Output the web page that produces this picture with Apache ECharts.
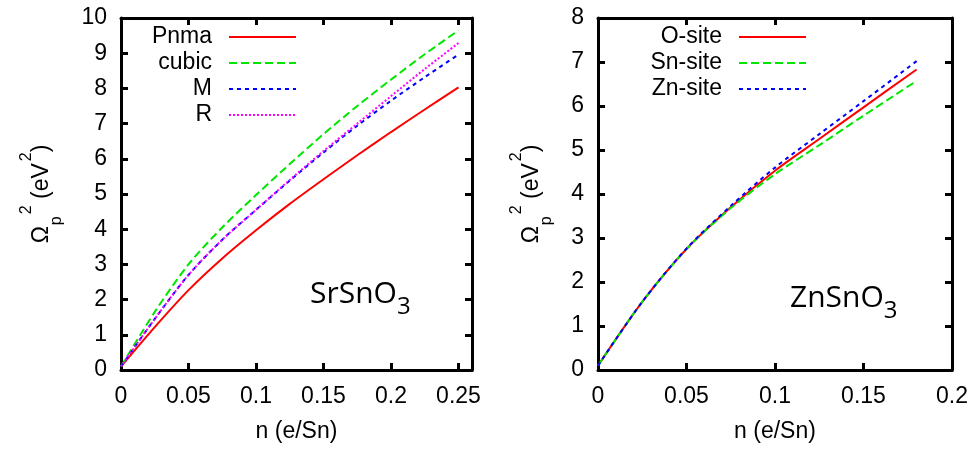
<!DOCTYPE html>
<html>
<head>
<meta charset="utf-8">
<script src="https://cdn.jsdelivr.net/npm/echarts@6/dist/echarts.min.js"></script>
<style>
  html, body { margin: 0; padding: 0; background: #fff; }
  #chart { width: 974px; height: 450px; }
</style>
</head>
<body>
<div id="chart"></div>
<script>
// SrSnO3 panel
const nSr = [0, 0.025, 0.05, 0.075, 0.1, 0.125, 0.15, 0.175, 0.2, 0.225, 0.25];
const pnma = [0.1, 1.22, 2.27, 3.17, 3.97, 4.72, 5.42, 6.1, 6.76, 7.4, 8.03];
const cubic = [0.1, 1.65, 3.0, 4.05, 4.97, 5.85, 6.7, 7.5, 8.25, 8.97, 9.65];
const phaseM = [0.1, 1.45, 2.7, 3.7, 4.55, 5.38, 6.18, 6.94, 7.65, 8.32, 8.96];
const phaseR = [0.1, 1.45, 2.7, 3.7, 4.55, 5.4, 6.22, 7.0, 7.78, 8.55, 9.29];

// ZnSnO3 panel
const nZn = [0, 0.025, 0.05, 0.075, 0.1, 0.125, 0.15, 0.18];
const oSite = [0.1, 1.55, 2.75, 3.7, 4.53, 5.25, 5.97, 6.83];
const snSite = [0.1, 1.55, 2.75, 3.68, 4.45, 5.11, 5.78, 6.57];
const znSite = [0.1, 1.55, 2.76, 3.73, 4.6, 5.36, 6.11, 7.02];

const srNames = ['Pnma', 'cubic', 'M', 'R'];
const znNames = ['O-site', 'Sn-site', 'Zn-site'];

const FONT = 'Liberation Sans';
const zip = (xs, ys) => xs.map((x, i) => [x, ys[i]]);

const frameLine = () => ({ show: true, onZero: false, lineStyle: { color: '#000', width: 3 } });
const tickIn = () => ({ show: true, inside: true, length: 7, lineStyle: { color: '#000', width: 3 } });
const tickLabel = margin => ({ color: '#000', fontFamily: FONT, fontSize: 23, margin: margin });

// Ω_p^2 (eV^2) with sub/superscripts
const yName = '{m|Ω}{sub|p}{sup|2}{m| (eV}{sup|2}{m|)}';
const yNameStyle = () => ({
  color: '#000',
  fontFamily: FONT,
  fontSize: 23,
  rich: {
    m: { fontFamily: FONT, fontSize: 23, lineHeight: 46, color: '#000' },
    sup: { fontFamily: FONT, fontSize: 16, lineHeight: 20, verticalAlign: 'top', padding: [0, 0, 0, 2], color: '#000' },
    sub: { fontFamily: FONT, fontSize: 16, lineHeight: 32, verticalAlign: 'bottom', padding: [0, 0, 0, 1], color: '#000' },
  },
});

function xAxes(grid, max) {
  return [
    {
      type: 'value', gridIndex: grid, position: 'bottom', min: 0, max: max, interval: 0.05,
      name: 'n (e/Sn)', nameLocation: 'middle', nameGap: 50,
      nameTextStyle: { color: '#000', fontFamily: FONT, fontSize: 23 },
      axisLine: frameLine(), axisTick: tickIn(),
      axisLabel: Object.assign({ showMaxLabel: max === 0.2 }, tickLabel(15)),
      splitLine: { show: false },
    },
    {
      type: 'value', gridIndex: grid, position: 'top', min: 0, max: max, interval: 0.05,
      axisLine: frameLine(), axisTick: tickIn(), axisLabel: { show: false }, splitLine: { show: false },
    },
  ];
}

function yAxes(grid, max, gap) {
  return [
    {
      type: 'value', gridIndex: grid, position: 'left', min: 0, max: max, interval: 1,
      name: yName, nameLocation: 'middle', nameGap: gap, nameRotate: 90,
      nameTextStyle: yNameStyle(),
      axisLine: frameLine(), axisTick: tickIn(),
      axisLabel: tickLabel(14),
      splitLine: { show: false },
    },
    {
      type: 'value', gridIndex: grid, position: 'right', min: 0, max: max, interval: 1,
      axisLine: frameLine(), axisTick: tickIn(), axisLabel: { show: false }, splitLine: { show: false },
    },
  ];
}

function curve(name, xs, ys, axis, color, dash) {
  return {
    name: name,
    type: 'line',
    xAxisIndex: axis,
    yAxisIndex: axis,
    data: zip(xs, ys),
    smooth: 0.3,
    symbol: 'none',
    lineStyle: { color: color, width: 2, type: dash },
    itemStyle: { color: color },
    z: 3,
  };
}

const legendBase = () => ({
  orient: 'vertical',
  align: 'right',
  top: 24,
  padding: 0,
  itemGap: 0,
  itemWidth: 67,
  itemHeight: 14,
  itemStyle: { opacity: 0 },
  textStyle: { color: '#000', fontFamily: FONT, fontSize: 23, lineHeight: 26, padding: [0, 12, 0, 0] },
});

const formula = (x, y, label) => ({
  type: 'text',
  left: x,
  top: y,
  style: {
    text: '{m|' + label + '}{s|3}',
    rich: {
      m: { fontFamily: 'Open Sans', fontSize: 30, lineHeight: 34, fill: '#000' },
      s: { fontFamily: 'Open Sans', fontSize: 24, lineHeight: 24, padding: [18, 0, 0, 0], verticalAlign: 'top', fill: '#000' },
    },
  },
});

const chart = echarts.init(document.getElementById('chart'));
const option = {
  animation: false,
  backgroundColor: '#fff',
  grid: [
    { left: 121, right: 502, top: 18, bottom: 80 },
    { left: 598, right: 22, top: 18, bottom: 80 },
  ],
  xAxis: xAxes(0, 0.26).concat(xAxes(1, 0.2)),
  yAxis: yAxes(0, 10, 56).concat(yAxes(1, 8, 43)),
  legend: [
    Object.assign({ right: 974 - 297, data: srNames }, legendBase()),
    Object.assign({ right: 974 - 807, data: znNames }, legendBase()),
  ],
  graphic: [
    formula(310, 277, 'SrSnO'),
    formula(790, 281, 'ZnSnO'),
  ],
  series: [
    curve('Pnma', nSr, pnma, 0, '#ff0000', 'solid'),
    curve('cubic', nSr, cubic, 0, '#00e600', [8, 4]),
    curve('M', nSr, phaseM, 0, '#0000ff', [4, 4]),
    curve('R', nSr, phaseR, 0, '#ff00ff', [2, 2]),
    curve('O-site', nZn, oSite, 2, '#ff0000', 'solid'),
    curve('Sn-site', nZn, snSite, 2, '#00e600', [8, 4]),
    curve('Zn-site', nZn, znSite, 2, '#0000ff', [4, 4]),
  ],
};
chart.setOption(option);
</script>
</body>
</html>
